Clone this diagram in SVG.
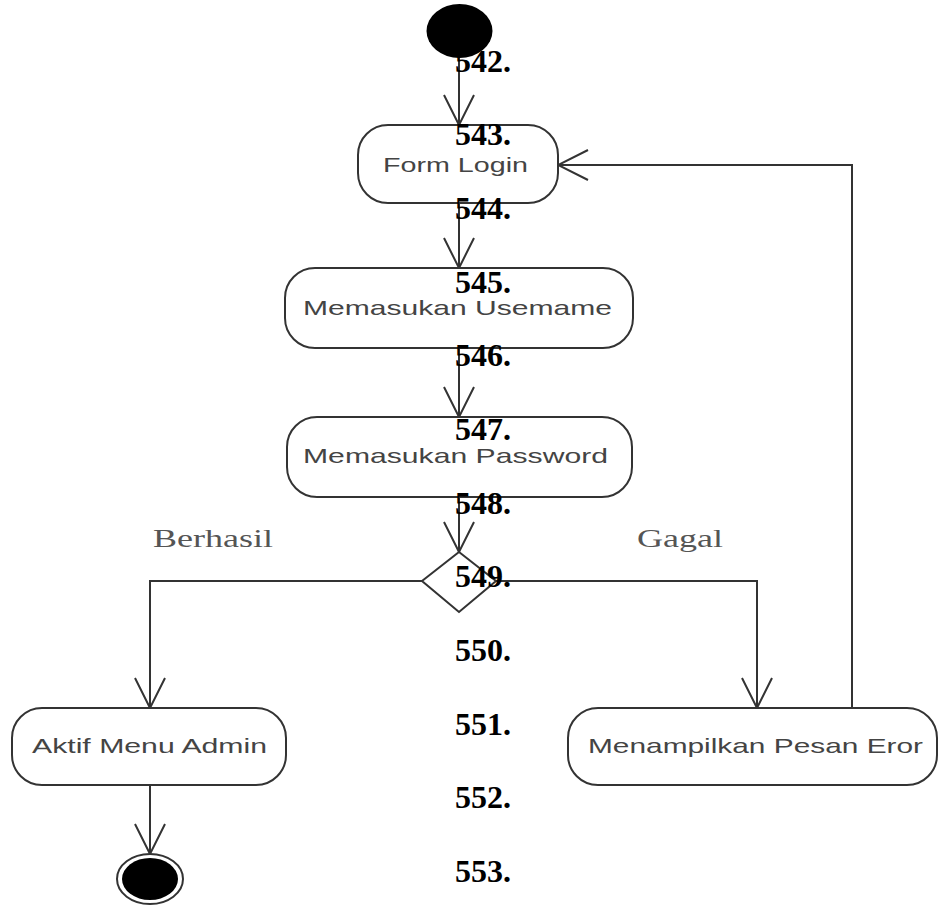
<svg xmlns="http://www.w3.org/2000/svg" width="938" height="905" viewBox="0 0 938 905">
<style>
.box{fill:#fff;stroke:#333;stroke-width:2}
.lbl{font-family:"Liberation Sans",Arial,sans-serif;font-size:21px;fill:#444}
.guard{font-family:"Liberation Serif","Times New Roman",serif;font-size:26px;fill:#555}
.num{font-family:"Liberation Serif","Times New Roman",serif;font-size:32px;font-weight:bold;fill:#000}
.edge{fill:none;stroke:#333;stroke-width:2;marker-end:url(#arr)}
</style>
<defs>
<marker id="arr" viewBox="-32 -18 34 36" markerWidth="34" markerHeight="36" refX="0" refY="0" orient="auto" markerUnits="userSpaceOnUse">
<path d="M-30,-15 L0,0 L-30,15" fill="none" stroke="#333" stroke-width="2"/>
</marker>
</defs>
<rect width="938" height="905" fill="#fff"/>
<g id="connectors">
<path class="edge" d="M459,58 L459,125"/>
<path class="edge" d="M459,203 L459,268"/>
<path class="edge" d="M459,348 L459,417"/>
<path class="edge" d="M459,497 L459,552"/>
<path class="edge" d="M422,581 L150,581 L150,708"/>
<path class="edge" d="M496,581 L757,581 L757,708"/>
<path class="edge" d="M150,785 L150,854"/>
<path class="edge" d="M852,708 L852,165 L558,165"/>
</g>
<g id="start"><ellipse cx="459.5" cy="31" rx="33" ry="27" fill="#000"/></g>
<g id="formLogin"><rect class="box" x="358" y="125" width="200" height="78" rx="30"/><text class="lbl" x="383" y="172" textLength="145" lengthAdjust="spacingAndGlyphs">Form Login</text></g>
<g id="username"><rect class="box" x="285" y="268" width="348" height="80" rx="30"/><text class="lbl" x="303" y="315" textLength="309" lengthAdjust="spacingAndGlyphs">Memasukan Usemame</text></g>
<g id="password"><rect class="box" x="287" y="417" width="345" height="80" rx="30"/><text class="lbl" x="303" y="463" textLength="305" lengthAdjust="spacingAndGlyphs">Memasukan Password</text></g>
<g id="decision"><polygon points="459,552 496,581 459,612 422,581" fill="#fff" stroke="#333" stroke-width="2"/></g>
<g id="aktif"><rect class="box" x="12" y="708" width="274" height="77" rx="30"/><text class="lbl" x="32" y="753" textLength="235" lengthAdjust="spacingAndGlyphs">Aktif Menu Admin</text></g>
<g id="eror"><rect class="box" x="568" y="708" width="369" height="77" rx="30"/><text class="lbl" x="588" y="753" textLength="335" lengthAdjust="spacingAndGlyphs">Menampilkan Pesan Eror</text></g>
<g id="end"><ellipse cx="150" cy="879" rx="33" ry="25" fill="#fff" stroke="#333" stroke-width="2"/><ellipse cx="150" cy="879" rx="28" ry="21" fill="#000"/></g>
<g id="guards">
<text class="guard" x="153" y="547" textLength="120" lengthAdjust="spacingAndGlyphs">Berhasil</text>
<text class="guard" x="637" y="547" textLength="86" lengthAdjust="spacingAndGlyphs">Gagal</text>
</g>
<g id="numbers">
<text class="num" x="455" y="72">542.</text>
<text class="num" x="455" y="145">543.</text>
<text class="num" x="455" y="219">544.</text>
<text class="num" x="455" y="293">545.</text>
<text class="num" x="455" y="366">546.</text>
<text class="num" x="455" y="440">547.</text>
<text class="num" x="455" y="514">548.</text>
<text class="num" x="455" y="587">549.</text>
<text class="num" x="455" y="661">550.</text>
<text class="num" x="455" y="735">551.</text>
<text class="num" x="455" y="808">552.</text>
<text class="num" x="455" y="882">553.</text>
</g>
</svg>
